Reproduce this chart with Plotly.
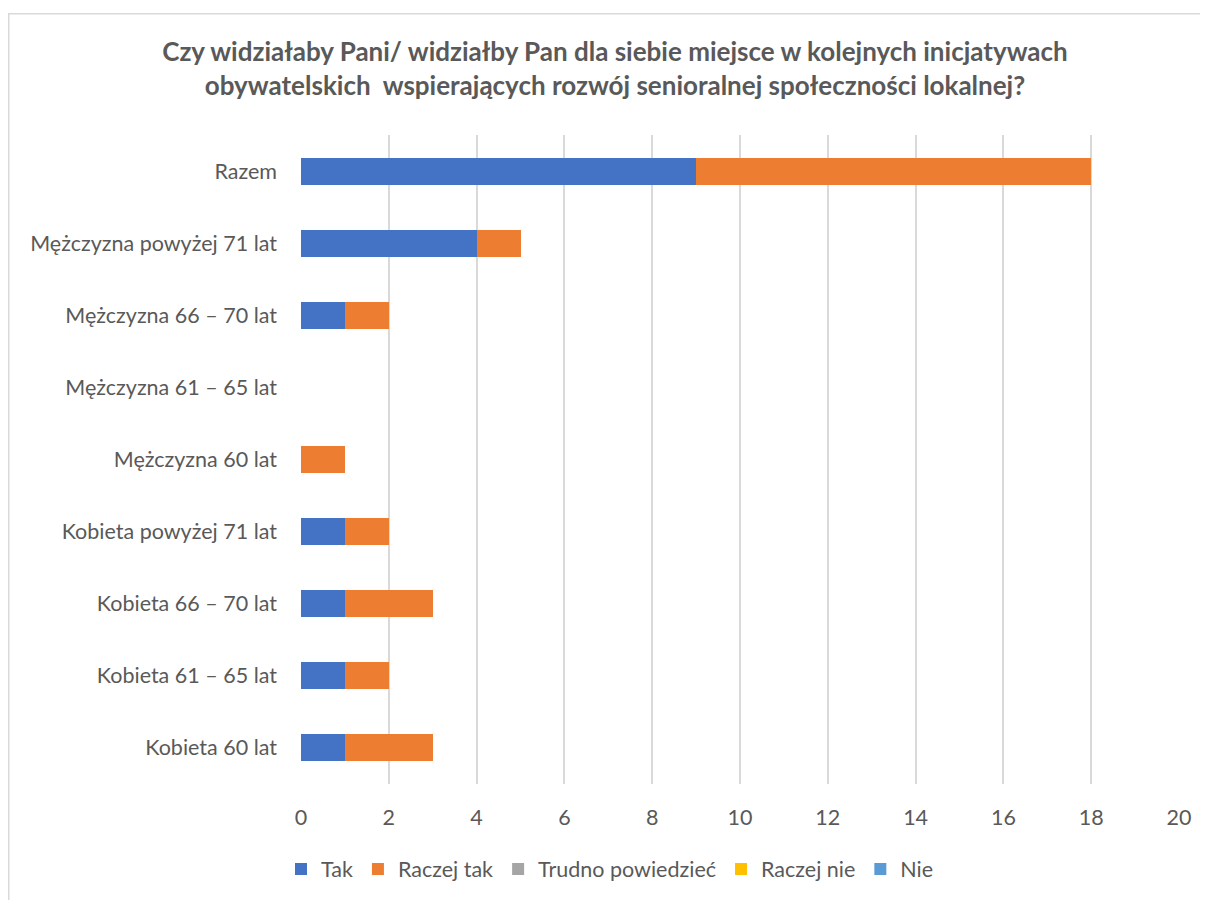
import plotly.graph_objects as go

categories = [
    "Razem",
    "Mężczyzna powyżej 71 lat",
    "Mężczyzna 66 – 70 lat",
    "Mężczyzna 61 – 65 lat",
    "Mężczyzna 60 lat",
    "Kobieta powyżej 71 lat",
    "Kobieta 66 – 70 lat",
    "Kobieta 61 – 65 lat",
    "Kobieta 60 lat",
]
tak = [9, 4, 1, 0, 0, 1, 1, 1, 1]
raczej_tak = [9, 1, 1, 0, 1, 1, 2, 1, 2]
trudno = [0, 0, 0, 0, 0, 0, 0, 0, 0]
raczej_nie = [0, 0, 0, 0, 0, 0, 0, 0, 0]
nie = [0, 0, 0, 0, 0, 0, 0, 0, 0]

series_names = ["Tak", "Raczej tak", "Trudno powiedzieć", "Raczej nie", "Nie"]
series_values = [tak, raczej_tak, trudno, raczej_nie, nie]
colors = ["#4472C4", "#ED7D31", "#A5A5A5", "#FFC000", "#5B9BD5"]

title_text = ("Czy widziałaby Pani/ widziałby Pan dla siebie miejsce w kolejnych inicjatywach<br>"
              "obywatelskich  wspierających rozwój senioralnej społeczności lokalnej?")
x_ticks = [0, 2, 4, 6, 8, 10, 12, 14, 16, 18, 20]

FONT = "Lato, 'Open Sans', sans-serif"
GREY = "#595959"

W, H = 1200, 892
L, R, T, B = 293, 29, 127, 115
PW, PH = W - L - R, H - T - B

fig = go.Figure()
for name, vals, col in zip(series_names, series_values, colors):
    fig.add_trace(go.Bar(
        y=categories, x=vals, name=name, orientation="h",
        marker=dict(color=col, line=dict(width=0)),
    ))

fig.update_layout(
    width=W, height=H,
    barmode="stack", bargap=0.625,
    paper_bgcolor="white", plot_bgcolor="white",
    margin=dict(l=L, r=R, t=T, b=B),
    font=dict(family=FONT, color=GREY, size=21.5),
    title=dict(
        text=title_text, x=607 / W, xanchor="center", xref="container",
        y=1 - 53 / H, yanchor="middle", yref="container",
        font=dict(family=FONT, size=26, color=GREY, weight="bold"),
    ),
    xaxis=dict(
        range=[0, 20], tickvals=x_ticks, showgrid=True, gridcolor="#D9D9D9",
        gridwidth=1.5, zeroline=False, showline=False, ticks="",
        tickfont=dict(size=21.5, color=GREY), ticklabelstandoff=18,
    ),
    yaxis=dict(
        autorange="reversed", showgrid=False, zeroline=False, showline=False,
        ticks="", tickfont=dict(size=21.5, color=GREY), ticklabelstandoff=23,
    ),
    legend=dict(
        orientation="h", x=(273 - L) / PW, xanchor="left",
        y=(H - B - 861) / PH, yanchor="middle",
        font=dict(size=21.5, color=GREY), itemwidth=30, traceorder="normal",
    ),
    showlegend=True,
    shapes=[dict(
        type="rect", xref="paper", yref="paper",
        x0=(0.75 - L) / PW, x1=(W + 20 - L) / PW,
        y0=(H - B - (H + 20)) / PH, y1=(H - B - 5.5) / PH,
        line=dict(color="#D9D9D9", width=1.5), fillcolor="rgba(0,0,0,0)", layer="below",
    )],
)

fig.write_html("out.html")
